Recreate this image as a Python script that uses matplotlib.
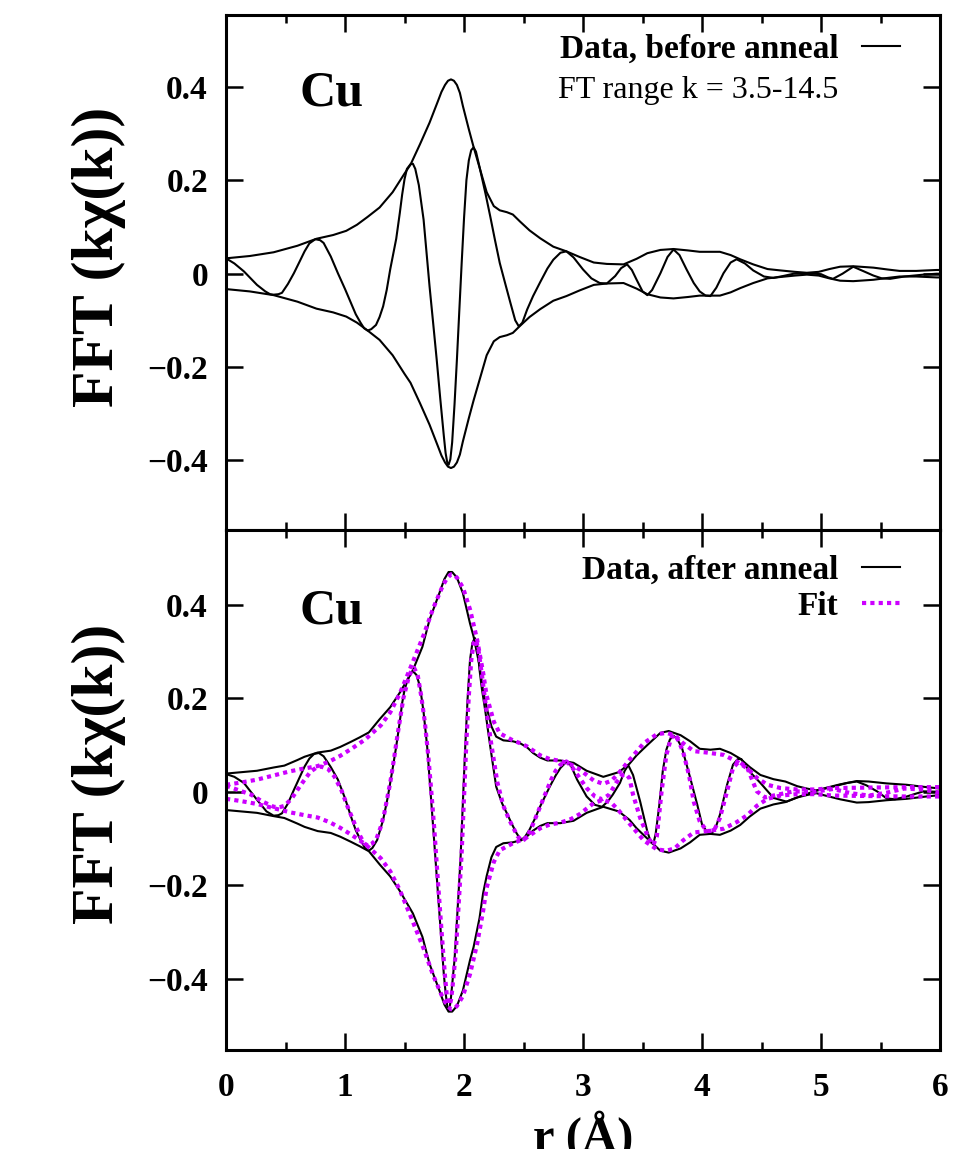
import numpy as np
import matplotlib
matplotlib.use("Agg")
import matplotlib.pyplot as plt
from matplotlib.lines import Line2D
from matplotlib.ticker import MultipleLocator, FixedLocator

# |FT| and Re[FT] of k*chi(k), Cu edge, before and after anneal (+ fit)
r_mag_before = [0.00, 0.20, 0.40, 0.60, 0.76, 0.90, 1.01, 1.10, 1.19, 1.29, 1.40, 1.50, 1.55,
                1.63, 1.71, 1.78, 1.81, 1.84, 1.865, 1.89, 1.915, 1.94, 1.965, 1.99, 2.04, 2.08,
                2.13, 2.19, 2.25, 2.30, 2.36, 2.41, 2.47, 2.55, 2.64, 2.75, 2.86, 2.97, 3.09,
                3.20, 3.34, 3.45, 3.54, 3.65, 3.76, 3.88, 3.98, 4.08, 4.15, 4.24, 4.32, 4.43,
                4.55, 4.66, 4.78, 4.88, 4.98, 5.07, 5.16, 5.27, 5.44, 5.56, 5.66, 5.80, 5.97, 6.00]
mag_before = [0.033, 0.038, 0.046, 0.060, 0.075, 0.083, 0.092, 0.105, 0.122, 0.142, 0.175, 0.215, 0.234,
              0.278, 0.324, 0.370, 0.390, 0.405, 0.414, 0.417, 0.414, 0.405, 0.388, 0.360, 0.310, 0.272,
              0.228, 0.175, 0.145, 0.136, 0.132, 0.127, 0.112, 0.093, 0.076, 0.058, 0.048, 0.036, 0.024,
              0.021, 0.020, 0.032, 0.044, 0.051, 0.053, 0.050, 0.047, 0.047, 0.047, 0.040, 0.031, 0.020,
              0.010, 0.007, 0.004, 0.002, 0.004, 0.010, 0.015, 0.016, 0.013, 0.009, 0.006, 0.006, 0.008, 0.008]

r_re_before = [0.00, 0.07, 0.15, 0.26, 0.33, 0.37, 0.40, 0.44, 0.47, 0.52, 0.57, 0.62, 0.66, 0.70,
               0.75, 0.79, 0.82, 0.88, 0.94, 1.00, 1.05, 1.09, 1.13, 1.16, 1.19, 1.22, 1.26, 1.29,
               1.32, 1.35, 1.38, 1.43, 1.46, 1.48, 1.50, 1.52, 1.55, 1.57, 1.59, 1.62, 1.66, 1.71,
               1.74, 1.77, 1.80, 1.83, 1.845, 1.86, 1.87, 1.885, 1.90, 1.92, 1.94, 1.96, 1.98, 2.00,
               2.02, 2.04, 2.06, 2.08, 2.10, 2.13, 2.18, 2.22, 2.26, 2.30, 2.35, 2.39, 2.43, 2.46,
               2.49, 2.53, 2.58, 2.64, 2.70, 2.75, 2.81, 2.86, 2.92, 3.00, 3.07, 3.14, 3.20, 3.27,
               3.32, 3.37, 3.41, 3.45, 3.50, 3.54, 3.58, 3.65, 3.71, 3.76, 3.81, 3.87, 3.93, 3.98,
               4.03, 4.07, 4.12, 4.18, 4.24, 4.29, 4.36, 4.43, 4.52, 4.60, 4.68, 4.77, 4.88, 5.00,
               5.06, 5.10, 5.18, 5.27, 5.36, 5.44, 5.51, 5.58, 5.70, 5.86, 5.97, 6.00]
re_before = [0.033, 0.022, 0.005, -0.024, -0.038, -0.044, -0.045, -0.044, -0.041, -0.022, 0.001, 0.027, 0.048, 0.065,
             0.074, 0.072, 0.066, 0.037, 0.001, -0.033, -0.063, -0.087, -0.105, -0.117, -0.122, -0.119, -0.110, -0.093,
             -0.070, -0.035, 0.010, 0.075, 0.130, 0.170, 0.203, 0.225, 0.235, 0.236, 0.225, 0.190, 0.116, -0.027,
             -0.105, -0.184, -0.268, -0.348, -0.385, -0.407, -0.410, -0.398, -0.362, -0.280, -0.184, -0.080, 0.023, 0.120,
             0.201, 0.243, 0.265, 0.271, 0.262, 0.229, 0.172, 0.123, 0.072, 0.023, -0.025, -0.063, -0.100, -0.113,
             -0.105, -0.077, -0.048, -0.018, 0.011, 0.030, 0.045, 0.048, 0.035, 0.009, -0.010, -0.020, -0.021, -0.005,
             0.012, 0.020, 0.008, -0.013, -0.038, -0.046, -0.035, 0.001, 0.036, 0.052, 0.040, 0.009, -0.020, -0.038,
             -0.047, -0.048, -0.030, 0.001, 0.024, 0.031, 0.022, 0.007, -0.006, -0.009, -0.005, 0.000, 0.001, -0.001,
             -0.008, -0.011, 0.000, 0.015, 0.005, -0.004, -0.010, -0.011, -0.006, -0.002, 0.000, 0.000]

r_mag_after = [0.00, 0.13, 0.26, 0.40, 0.49, 0.60, 0.66, 0.77, 0.88, 0.96, 1.05, 1.12, 1.20, 1.29,
               1.38, 1.46, 1.57, 1.65, 1.71, 1.80, 1.835, 1.87, 1.90, 1.94, 1.99, 2.05, 2.08, 2.13,
               2.16, 2.19, 2.23, 2.27, 2.33, 2.41, 2.47, 2.53, 2.58, 2.64, 2.70, 2.81, 2.92, 3.03,
               3.17, 3.30, 3.39, 3.45, 3.54, 3.65, 3.72, 3.82, 3.90, 3.98, 4.07, 4.15, 4.24, 4.32,
               4.40, 4.49, 4.60, 4.70, 4.80, 4.88, 4.96, 5.05, 5.16, 5.30, 5.40, 5.55, 5.72, 5.85, 6.00]
mag_after = [0.039, 0.042, 0.045, 0.052, 0.056, 0.068, 0.075, 0.084, 0.088, 0.096, 0.107, 0.116, 0.127, 0.155,
             0.181, 0.212, 0.260, 0.310, 0.368, 0.430, 0.455, 0.470, 0.470, 0.458, 0.425, 0.360, 0.332, 0.270,
             0.217, 0.180, 0.140, 0.118, 0.110, 0.108, 0.104, 0.095, 0.083, 0.073, 0.067, 0.067, 0.062, 0.045,
             0.032, 0.042, 0.060, 0.078, 0.100, 0.126, 0.130, 0.121, 0.108, 0.092, 0.090, 0.092, 0.083, 0.071,
             0.053, 0.036, 0.027, 0.022, 0.012, 0.007, 0.003, 0.009, 0.016, 0.023, 0.022, 0.018, 0.015, 0.011, 0.007]

r_re_after = [0.00, 0.07, 0.15, 0.26, 0.34, 0.40, 0.44, 0.47, 0.52, 0.57, 0.62, 0.66, 0.70, 0.74,
              0.78, 0.82, 0.88, 0.94, 1.00, 1.05, 1.09, 1.13, 1.17, 1.20, 1.23, 1.27, 1.32, 1.36,
              1.40, 1.43, 1.46, 1.48, 1.50, 1.52, 1.55, 1.57, 1.60, 1.63, 1.66, 1.69, 1.715, 1.74,
              1.77, 1.80, 1.83, 1.845, 1.86, 1.87, 1.88, 1.89, 1.92, 1.945, 1.97, 1.99, 2.01, 2.03,
              2.05, 2.07, 2.09, 2.11, 2.13, 2.15, 2.18, 2.22, 2.27, 2.32, 2.36, 2.40, 2.44, 2.48,
              2.51, 2.55, 2.60, 2.64, 2.68, 2.72, 2.77, 2.81, 2.86, 2.90, 2.95, 3.03, 3.10, 3.16,
              3.21, 3.25, 3.31, 3.35, 3.38, 3.42, 3.48, 3.54, 3.57, 3.59, 3.61, 3.64, 3.67, 3.70,
              3.73, 3.76, 3.79, 3.83, 3.87, 3.90, 3.96, 4.00, 4.04, 4.08, 4.12, 4.15, 4.21, 4.26,
              4.30, 4.33, 4.40, 4.49, 4.60, 4.71, 4.80, 4.94, 5.10, 5.22, 5.30, 5.38, 5.47, 5.55,
              5.62, 5.72, 5.86, 6.00]
re_after = [0.038, 0.032, 0.019, -0.017, -0.042, -0.051, -0.050, -0.046, -0.025, 0.004, 0.032, 0.054, 0.071, 0.081,
            0.083, 0.076, 0.053, 0.026, -0.014, -0.053, -0.082, -0.103, -0.121, -0.126, -0.120, -0.103, -0.060, -0.010,
            0.050, 0.097, 0.150, 0.190, 0.218, 0.235, 0.253, 0.258, 0.250, 0.225, 0.170, 0.097, 0.012, -0.074,
            -0.180, -0.288, -0.390, -0.430, -0.460, -0.468, -0.460, -0.440, -0.359, -0.255, -0.145, -0.025, 0.097, 0.200,
            0.282, 0.318, 0.329, 0.315, 0.261, 0.220, 0.170, 0.097, 0.011, -0.025, -0.046, -0.068, -0.088, -0.104,
            -0.097, -0.081, -0.055, -0.031, -0.010, 0.011, 0.035, 0.051, 0.064, 0.055, 0.026, -0.010, -0.028, -0.032,
            -0.020, -0.006, 0.019, 0.045, 0.057, 0.036, -0.021, -0.085, -0.108, -0.112, -0.090, -0.030, 0.045, 0.090,
            0.112, 0.120, 0.113, 0.095, 0.058, 0.030, -0.028, -0.070, -0.085, -0.090, -0.072, -0.049, 0.015, 0.058,
            0.070, 0.070, 0.043, 0.019, -0.013, -0.021, -0.012, 0.001, 0.011, 0.019, 0.022, 0.014, 0.001, -0.014,
            -0.016, -0.010, 0.001, 0.000]

r_mag_fit = [0.00, 0.13, 0.26, 0.40, 0.54, 0.66, 0.77, 0.87, 0.96, 1.06, 1.17, 1.30, 1.38, 1.46,
             1.57, 1.66, 1.74, 1.82, 1.855, 1.89, 1.915, 1.94, 1.99, 2.05, 2.11, 2.16, 2.19, 2.25,
             2.30, 2.41, 2.47, 2.53, 2.64, 2.72, 2.81, 2.90, 2.97, 3.03, 3.09, 3.17, 3.24, 3.30,
             3.39, 3.51, 3.62, 3.70, 3.77, 3.84, 3.93, 4.04, 4.18, 4.29, 4.38, 4.46, 4.55, 4.66,
             4.80, 4.95, 5.10, 5.40, 5.70, 6.00]
mag_fit = [0.015, 0.020, 0.026, 0.035, 0.044, 0.050, 0.055, 0.065, 0.077, 0.093, 0.112, 0.142, 0.170, 0.210,
           0.278, 0.335, 0.392, 0.440, 0.456, 0.465, 0.464, 0.458, 0.437, 0.390, 0.325, 0.255, 0.205, 0.150,
           0.125, 0.110, 0.104, 0.097, 0.078, 0.070, 0.066, 0.058, 0.048, 0.036, 0.024, 0.017, 0.024, 0.040,
           0.068, 0.104, 0.123, 0.126, 0.121, 0.104, 0.087, 0.084, 0.079, 0.065, 0.050, 0.030, 0.015, 0.008,
           0.005, 0.005, 0.008, 0.009, 0.010, 0.010]

r_re_fit = [0.00, 0.10, 0.21, 0.30, 0.40, 0.45, 0.49, 0.55, 0.60, 0.66, 0.71, 0.76, 0.80, 0.86,
            0.91, 0.97, 1.02, 1.08, 1.13, 1.16, 1.19, 1.22, 1.26, 1.30, 1.33, 1.38, 1.41, 1.44,
            1.49, 1.53, 1.555, 1.58, 1.61, 1.64, 1.67, 1.70, 1.725, 1.75, 1.78, 1.81, 1.84, 1.855,
            1.87, 1.88, 1.89, 1.90, 1.93, 1.955, 1.98, 2.00, 2.02, 2.04, 2.06, 2.08, 2.10, 2.12,
            2.15, 2.19, 2.23, 2.28, 2.33, 2.38, 2.45, 2.49, 2.53, 2.57, 2.61, 2.65, 2.73, 2.77,
            2.81, 2.86, 2.91, 2.97, 3.03, 3.10, 3.16, 3.22, 3.28, 3.33, 3.36, 3.39, 3.42, 3.48,
            3.55, 3.59, 3.62, 3.66, 3.70, 3.74, 3.77, 3.80, 3.84, 3.89, 3.93, 3.98, 4.04, 4.10,
            4.15, 4.21, 4.26, 4.31, 4.38, 4.46, 4.53, 4.60, 4.77, 4.94, 5.10, 5.25, 5.40, 5.55,
            5.70, 5.85, 6.00]
re_fit = [0.013, 0.004, -0.006, -0.020, -0.032, -0.033, -0.030, -0.015, 0.004, 0.026, 0.043, 0.052, 0.054, 0.048,
          0.033, 0.003, -0.031, -0.068, -0.096, -0.110, -0.115, -0.112, -0.103, -0.075, -0.046, 0.020, 0.068, 0.120,
          0.200, 0.240, 0.258, 0.265, 0.250, 0.205, 0.150, 0.075, 0.000, -0.080, -0.190, -0.295, -0.395, -0.435,
          -0.452, -0.455, -0.445, -0.425, -0.345, -0.240, -0.130, -0.010, 0.110, 0.205, 0.280, 0.318, 0.325, 0.305,
          0.250, 0.170, 0.100, 0.020, -0.030, -0.060, -0.095, -0.106, -0.096, -0.075, -0.050, -0.025, 0.025, 0.045,
          0.058, 0.065, 0.052, 0.030, 0.008, -0.010, -0.016, -0.006, 0.020, 0.036, 0.038, 0.029, -0.006, -0.056,
          -0.099, -0.114, -0.095, 0.001, 0.079, 0.115, 0.122, 0.110, 0.086, 0.036, -0.021, -0.063, -0.084, -0.083,
          -0.056, 0.001, 0.051, 0.065, 0.051, 0.001, -0.012, -0.008, 0.001, 0.000, 0.006, -0.003, -0.008, -0.002,
          0.007, 0.005, -0.002]

yticks = [-0.4, -0.2, 0.0, 0.2, 0.4]
ytick_labels = ["\u22120.4", "\u22120.2", "0", "0.2", "0.4"]
xticks = [0, 1, 2, 3, 4, 5, 6]

plt.rcParams["font.family"] = ["Liberation Serif", "DejaVu Serif"]
plt.rcParams["font.weight"] = "bold"

black = "black"
fit_color = "#cc00ff"
lw_data = 1.5

fig = plt.figure(figsize=(9.76, 11.49), dpi=100)
ax1 = fig.add_axes([0.2316, 0.5387, 0.7316, 0.4482])
ax2 = fig.add_axes([0.2316, 0.0862, 0.7316, 0.4526])


def style_axes(ax, ylim):
    ax.set_xlim(0, 6)
    ax.set_ylim(*ylim)
    ax.xaxis.set_major_locator(FixedLocator(xticks))
    ax.xaxis.set_minor_locator(MultipleLocator(0.5))
    ax.yaxis.set_major_locator(FixedLocator(yticks))
    ax.set_yticklabels(ytick_labels)
    ax.tick_params(which="both", direction="in", top=True, right=True, width=1.8)
    ax.tick_params(which="major", length=12, labelsize=24, pad=13)
    ax.tick_params(axis="x", which="major", pad=16)
    ax.tick_params(which="minor", length=6)
    for s in ax.spines.values():
        s.set_linewidth(2.2)
    for lab in ax.get_yticklabels() + ax.get_xticklabels():
        lab.set_fontweight("bold")
    ax.set_ylabel("FFT (k\u03c7(k))", fontsize=43, fontweight="bold")
    ax.text(0.62, 0.36, "Cu", fontsize=36, fontweight="bold", transform=ax.transData)


leg_kw = dict(loc="upper right", frameon=False, markerfirst=False,
              prop={"size": 24, "weight": "bold"}, handlelength=1.15, handletextpad=0.7,
              borderpad=0, borderaxespad=0)

# top panel: before anneal
ax1.plot(r_mag_before, mag_before, color=black, lw=lw_data)
ax1.plot(r_mag_before, -np.array(mag_before), color=black, lw=lw_data)
ax1.plot(r_re_before, re_before, color=black, lw=lw_data)
style_axes(ax1, (-0.55, 0.555))
ax1.set_xticklabels([])
ax1.yaxis.set_label_coords(-0.14, 0.53)

h1 = [Line2D([], [], color=black, lw=lw_data), Line2D([], [], lw=0)]
leg1 = ax1.legend(h1, ["Data, before anneal", "FT range k = 3.5-14.5"],
                  bbox_to_anchor=(0.944, 0.963), labelspacing=0.3, **leg_kw)
leg1.get_texts()[1].set_fontweight("normal")
leg1.get_texts()[1].set_fontsize(23)

# bottom panel: after anneal with fit
ax2.plot(r_mag_after, mag_after, color=black, lw=lw_data)
ax2.plot(r_mag_after, -np.array(mag_after), color=black, lw=lw_data)
ax2.plot(r_re_after, re_after, color=black, lw=lw_data)
dot = dict(color=fit_color, lw=3, linestyle=(0, (1, 1)), dash_capstyle="butt")
ax2.plot(r_mag_fit, mag_fit, **dot)
ax2.plot(r_mag_fit, -np.array(mag_fit), **dot)
ax2.plot(r_re_fit, re_fit, **dot)
style_axes(ax2, (-0.552, 0.56))
ax2.yaxis.set_label_coords(-0.14, 0.53)
ax2.set_xlabel("r (\u00c5)", fontsize=35, fontweight="bold")
ax2.xaxis.set_label_coords(0.5, -0.115)

h2 = [Line2D([], [], color=black, lw=lw_data), Line2D([], [], **dot)]
ax2.legend(h2, ["Data, after anneal", "Fit"],
           bbox_to_anchor=(0.944, 0.952), labelspacing=0.15, **leg_kw)

fig.savefig("out.png", dpi=100)
